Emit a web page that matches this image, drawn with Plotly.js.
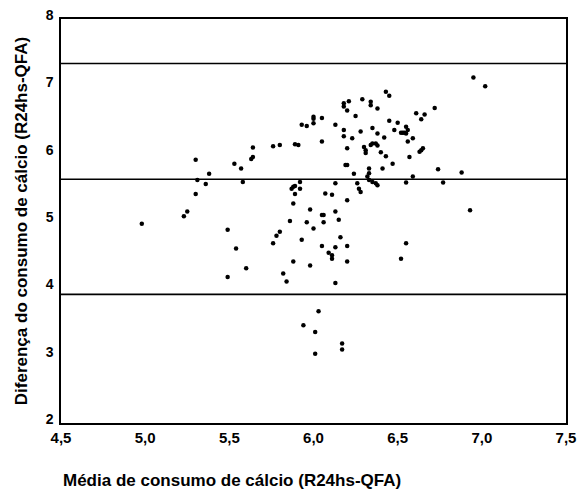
<!DOCTYPE html>
<html>
<head>
<meta charset="utf-8">
<script src="https://cdn.plot.ly/plotly-3.0.1.min.js"></script>
<style>html,body{margin:0;padding:0;background:#fff;}#chart{width:580px;height:492px;}</style>
</head>
<body>
<div id="chart"></div>
<script>
// Mean of the two methods (x) and their difference (y)
const mediaX = [4.98,5.23,5.25,5.30,5.31,5.30,5.36,5.38,5.53,5.57,5.58,5.49,5.54,5.49,5.60,5.63,5.64,5.64,5.76,5.80,
5.76,5.78,5.80,5.86,5.88,5.87,5.88,5.89,5.92,5.92,5.89,5.88,5.82,5.84,5.89,5.91,5.93,5.96,5.93,5.96,
5.98,5.98,6.00,6.00,6.00,6.00,6.05,6.05,6.05,6.06,6.06,6.05,6.07,6.11,6.13,6.13,6.13,6.15,6.13,6.09,
6.11,6.11,6.13,6.16,6.20,6.20,6.18,6.18,6.20,6.21,6.18,6.18,6.23,6.20,6.19,6.20,6.24,6.25,6.20,6.26,
6.27,6.28,6.28,6.29,6.30,6.31,6.31,6.33,6.33,6.32,6.33,6.35,6.34,6.34,6.35,6.34,6.35,6.37,6.38,6.38,
6.37,6.38,6.38,6.40,6.41,6.42,6.43,6.43,6.45,6.45,6.47,6.48,6.50,6.52,6.53,6.54,6.55,6.55,6.56,6.52,
6.55,6.55,6.56,6.57,6.59,6.59,6.61,6.63,6.64,6.65,6.64,6.66,6.72,6.74,6.77,6.88,6.93,6.95,7.02,5.94,
6.03,6.01,6.01,6.17,6.17];
const diferencaY = [4.96,5.07,5.14,5.91,5.61,5.40,5.55,5.70,5.85,5.78,5.58,4.87,4.59,4.17,4.30,5.92,5.95,6.09,6.11,6.13,
4.67,4.78,4.84,5.00,5.26,5.48,5.51,5.52,5.58,5.48,5.40,4.40,4.22,4.10,6.14,6.13,6.43,6.41,4.72,4.98,
5.17,4.34,4.89,6.55,6.52,6.45,6.53,6.18,5.09,5.09,4.98,4.63,5.41,5.39,6.43,5.56,5.14,5.02,4.61,4.53,
4.49,4.44,4.08,4.76,4.63,4.40,6.75,6.70,6.64,6.78,6.35,6.26,6.23,6.08,5.83,5.83,5.70,6.56,5.31,5.56,
5.48,5.43,6.33,6.81,6.10,6.05,6.01,5.78,5.71,5.66,5.61,5.58,6.77,6.72,6.38,6.13,6.15,5.56,5.53,6.67,
6.15,6.12,6.30,6.02,5.78,6.24,5.96,6.92,6.86,6.49,5.85,6.35,6.46,6.31,6.31,6.31,6.30,6.40,6.35,4.44,
5.57,4.67,6.18,5.95,5.66,6.23,6.60,6.03,6.05,6.08,6.51,6.58,6.68,5.77,5.57,5.72,5.16,7.13,7.00,3.45,
3.66,3.35,3.03,3.18,3.09];
// Mean difference and limits of agreement
const referenceLines = [7.34, 5.62, 3.91];
const xTickVals = [4.5, 5.0, 5.5, 6.0, 6.5, 7.0, 7.5];
const yTickVals = [2, 3, 4, 5, 6, 7, 8];

const fontFam = '"Liberation Sans", Arial, sans-serif';
const trace = {
  x: mediaX, y: diferencaY, type: 'scatter', mode: 'markers',
  marker: {color: '#000', size: 4.5, symbol: 'circle'},
  hoverinfo: 'x+y'
};
const shapes = referenceLines.map(v => ({
  type: 'line', xref: 'paper', x0: 0, x1: 1, yref: 'y', y0: v, y1: v,
  line: {color: '#000', width: 1.6}
}));
const layout = {
  width: 580, height: 492,
  margin: {l: 61, r: 14, t: 19, b: 69},
  paper_bgcolor: '#fff', plot_bgcolor: '#fff',
  separators: ',.',
  showlegend: false,
  font: {family: fontFam, color: '#000'},
  xaxis: {
    range: [4.5, 7.5], tickvals: xTickVals, tickformat: '.1f',
    showgrid: false, zeroline: false, showline: true, mirror: true,
    linecolor: '#000', linewidth: 1.6, ticks: '', ticklen: 0,
    tickfont: {family: fontFam, size: 15, color: '#000', weight: 'bold'}
  },
  yaxis: {
    range: [2, 8], tickvals: yTickVals,
    showgrid: false, zeroline: false, showline: true, mirror: true,
    linecolor: '#000', linewidth: 1.6, ticks: '', ticklen: 0,
    ticklabelshift: -4, ticklabelstandoff: 3,
    tickfont: {family: fontFam, size: 14, color: '#000', weight: 'bold'},
    title: {text: 'Diferença do consumo de cálcio (R24hs-QFA)', standoff: 14,
            font: {family: fontFam, size: 17, color: '#000', weight: 'bold'}}
  },
  shapes: shapes,
  annotations: [{
    text: 'Média de consumo de cálcio (R24hs-QFA)', showarrow: false,
    xref: 'paper', yref: 'paper', x: 0.0, y: -0.142, xanchor: 'left', yanchor: 'middle',
    font: {family: fontFam, size: 17, color: '#000', weight: 'bold'}
  }]
};
Plotly.newPlot('chart', [trace], layout, {displayModeBar: false, staticPlot: true});
</script>
</body>
</html>
